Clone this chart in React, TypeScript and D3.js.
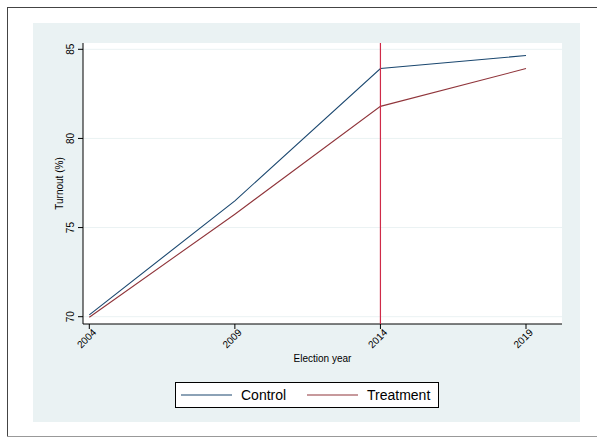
import React from 'react'
import * as d3 from 'd3'

const years = [2004, 2009, 2014, 2019]
const control = [70.1, 76.5, 83.92, 84.65]
const treatment = [69.97, 75.75, 81.8, 83.92]
const yTicks = [70, 75, 80, 85]
const seriesNames = ['Control', 'Treatment']
const seriesColors = ['#1a476f', '#90353b']
const cutoffYear = 2014

const W = 597, H = 438

const App = () => {
    // plot region
    const left = 83, right = 562, top = 43, bottom = 324

    const x = d3.scaleLinear().domain([2004, 2019]).range([89.3, 526])
    const y = d3.scaleLinear().domain([70, 85]).range([316.7, 49.3])

    const line = d3.line<number>()
        .x((d, i) => x(years[i]))
        .y(d => y(d))

    const font = 'Liberation Sans, Arial, sans-serif'

    return (
        <svg width={W} height={H} style={{ position: 'absolute', left: 0, top: 0, background: '#fff' }}
            fontFamily={font}>
            {/* outer frame */}
            <rect x={7.5} y={7.5} width={600} height={429} fill="#fff" stroke="#444" strokeWidth={1} />
            <line x1={7} x2={597} y1={436.5} y2={436.5} stroke="#999" />
            {/* graph region */}
            <rect x={33} y={23} width={547} height={399} fill="#eaf2f3" />
            <rect x={left} y={top} width={right - left} height={bottom - top} fill="#fff" />

            {/* grid */}
            {yTicks.map(t => (
                <line key={'g' + t} x1={left} x2={right} y1={y(t)} y2={y(t)} stroke="#eaf2f3" strokeWidth={1} />
            ))}

            {/* axes */}
            <line x1={left} x2={left} y1={top} y2={bottom} stroke="#000" strokeWidth={1} />
            <line x1={left} x2={right} y1={bottom} y2={bottom} stroke="#000" strokeWidth={1} />

            {yTicks.map(t => (
                <g key={'y' + t}>
                    <line x1={left - 5} x2={left} y1={y(t)} y2={y(t)} stroke="#000" />
                    <text transform={`translate(${left - 9},${y(t)}) rotate(-90)`} textAnchor="middle"
                        fontSize={10}>{t}</text>
                </g>
            ))}
            {years.map(t => (
                <g key={'x' + t}>
                    <line x1={x(t)} x2={x(t)} y1={bottom} y2={bottom + 5} stroke="#000" />
                    <text transform={`translate(${x(t) + 2.5},${bottom + 4}) rotate(-45)`} textAnchor="end"
                        dy="0.72em" fontSize={10}>{t}</text>
                </g>
            ))}

            <text x={(left + right) / 2} y={362} textAnchor="middle" fontSize={10}>Election year</text>
            <text transform={`translate(63,${(top + bottom) / 2}) rotate(-90)`} textAnchor="middle"
                fontSize={10}>Turnout (%)</text>

            {/* series */}
            <path d={line(control) || ''} fill="none" stroke={seriesColors[0]} strokeWidth={1.1} />
            <path d={line(treatment) || ''} fill="none" stroke={seriesColors[1]} strokeWidth={1.1} />

            {/* cutoff */}
            <line x1={x(cutoffYear)} x2={x(cutoffYear)} y1={top} y2={bottom} stroke="#cf2a48" strokeWidth={1.2} />

            {/* legend */}
            <rect x={175.5} y={382.5} width={263} height={25} fill="#fff" stroke="#000" strokeWidth={1} />
            {seriesNames.map((n, i) => (
                <g key={n}>
                    <line x1={181 + i * 126} x2={232 + i * 126} y1={395} y2={395} stroke={seriesColors[i]} strokeWidth={1.1} />
                    <text x={241 + i * 126} y={400} fontSize={14}>{n}</text>
                </g>
            ))}
        </svg>
    )
}

export default App
